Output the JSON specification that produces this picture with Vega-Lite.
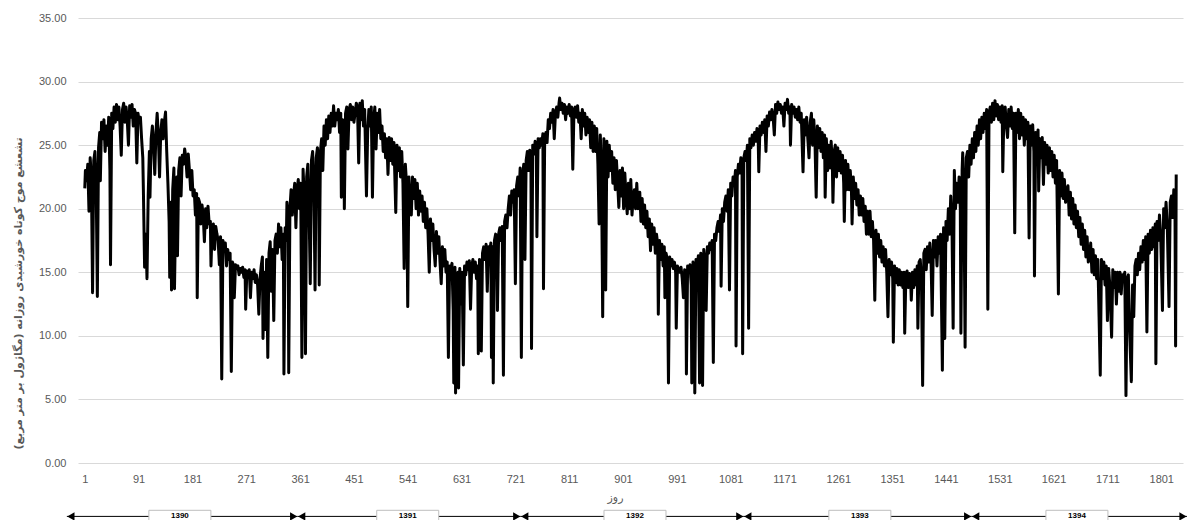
{
  "$schema": "https://vega.github.io/schema/vega-lite/v6.json",
  "autosize": {"type": "none"},
  "width": 1105,
  "height": 445,
  "padding": {"left": 78, "top": 18, "right": 11, "bottom": 57},
  "background": "white",
  "config": {"view": {"stroke": null}, "font": "Liberation Sans"},
  "datasets": {
    "series": [
{"d":1,"v":21.6},{"d":2,"v":23.0},{"d":4,"v":22.2},{"d":6,"v":23.5},{"d":8,"v":19.8},{"d":10,"v":24.0},{"d":12,"v":22.5},{"d":14,"v":13.4},{"d":16,"v":23.8},{"d":18,"v":24.5},{"d":20,"v":22.0},{"d":22,"v":13.1},{"d":24,"v":24.8},{"d":26,"v":26.0},{"d":27,"v":22.2},{"d":29,"v":26.8},{"d":31,"v":25.5},{"d":33,"v":27.0},{"d":35,"v":24.5},{"d":37,"v":26.5},{"d":39,"v":25.0},{"d":41,"v":27.2},{"d":43,"v":23.0},{"d":44,"v":15.6},{"d":46,"v":27.5},{"d":48,"v":26.3},{"d":50,"v":28.0},{"d":52,"v":26.8},{"d":54,"v":28.2},{"d":56,"v":27.0},{"d":58,"v":28.0},{"d":60,"v":26.5},{"d":62,"v":24.2},{"d":64,"v":27.8},{"d":66,"v":28.3},{"d":68,"v":26.8},{"d":70,"v":28.0},{"d":72,"v":27.0},{"d":74,"v":25.0},{"d":76,"v":28.1},{"d":78,"v":27.2},{"d":80,"v":28.2},{"d":82,"v":26.5},{"d":84,"v":27.8},{"d":86,"v":27.5},{"d":88,"v":23.6},{"d":90,"v":27.5},{"d":92,"v":26.8},{"d":94,"v":27.2},{"d":96,"v":25.5},{"d":98,"v":24.0},{"d":99,"v":21.4},{"d":101,"v":15.4},{"d":103,"v":18.0},{"d":105,"v":14.5},{"d":107,"v":21.0},{"d":109,"v":24.5},{"d":110,"v":20.9},{"d":112,"v":25.5},{"d":114,"v":26.5},{"d":116,"v":25.0},{"d":118,"v":22.7},{"d":120,"v":26.0},{"d":122,"v":27.5},{"d":124,"v":25.8},{"d":126,"v":22.5},{"d":128,"v":26.0},{"d":130,"v":27.0},{"d":132,"v":25.5},{"d":134,"v":26.8},{"d":136,"v":27.6},{"d":138,"v":24.5},{"d":140,"v":22.0},{"d":142,"v":19.0},{"d":143,"v":14.6},{"d":145,"v":20.5},{"d":146,"v":13.6},{"d":148,"v":21.5},{"d":150,"v":23.2},{"d":151,"v":13.7},{"d":153,"v":20.0},{"d":155,"v":22.5},{"d":156,"v":16.3},{"d":158,"v":23.0},{"d":160,"v":24.0},{"d":162,"v":21.0},{"d":164,"v":24.2},{"d":166,"v":23.5},{"d":168,"v":24.7},{"d":170,"v":24.0},{"d":172,"v":22.5},{"d":174,"v":24.3},{"d":176,"v":23.0},{"d":178,"v":21.5},{"d":180,"v":23.0},{"d":182,"v":21.0},{"d":184,"v":21.5},{"d":186,"v":19.5},{"d":188,"v":21.2},{"d":189,"v":13.0},{"d":191,"v":20.8},{"d":193,"v":20.5},{"d":195,"v":18.8},{"d":197,"v":20.3},{"d":199,"v":19.5},{"d":201,"v":17.4},{"d":203,"v":20.0},{"d":205,"v":18.5},{"d":207,"v":20.2},{"d":209,"v":18.8},{"d":211,"v":19.0},{"d":212,"v":15.5},{"d":214,"v":18.5},{"d":216,"v":18.8},{"d":218,"v":16.8},{"d":220,"v":18.6},{"d":222,"v":18.0},{"d":224,"v":17.5},{"d":226,"v":15.6},{"d":228,"v":17.8},{"d":230,"v":6.6},{"d":232,"v":17.5},{"d":234,"v":17.0},{"d":236,"v":17.3},{"d":238,"v":15.5},{"d":240,"v":16.8},{"d":242,"v":16.0},{"d":244,"v":16.5},{"d":246,"v":7.2},{"d":248,"v":15.8},{"d":250,"v":15.5},{"d":251,"v":13.0},{"d":253,"v":15.6},{"d":255,"v":15.3},{"d":257,"v":15.5},{"d":259,"v":14.8},{"d":261,"v":15.3},{"d":263,"v":15.0},{"d":265,"v":15.4},{"d":267,"v":14.6},{"d":269,"v":15.2},{"d":270,"v":12.1},{"d":272,"v":15.1},{"d":274,"v":14.8},{"d":276,"v":15.2},{"d":278,"v":13.0},{"d":280,"v":15.0},{"d":282,"v":14.5},{"d":284,"v":15.2},{"d":286,"v":14.2},{"d":288,"v":14.8},{"d":290,"v":14.0},{"d":292,"v":11.7},{"d":294,"v":14.5},{"d":296,"v":15.5},{"d":298,"v":16.2},{"d":299,"v":9.8},{"d":301,"v":15.0},{"d":303,"v":10.5},{"d":305,"v":16.0},{"d":307,"v":8.3},{"d":309,"v":16.5},{"d":311,"v":17.4},{"d":313,"v":13.5},{"d":315,"v":16.8},{"d":317,"v":11.2},{"d":319,"v":17.5},{"d":321,"v":18.0},{"d":323,"v":16.5},{"d":325,"v":18.8},{"d":327,"v":17.0},{"d":329,"v":18.5},{"d":331,"v":16.0},{"d":333,"v":18.0},{"d":334,"v":7.0},{"d":336,"v":18.5},{"d":338,"v":17.5},{"d":339,"v":20.5},{"d":341,"v":19.0},{"d":342,"v":7.1},{"d":344,"v":20.0},{"d":346,"v":21.5},{"d":348,"v":19.5},{"d":350,"v":21.0},{"d":352,"v":22.0},{"d":354,"v":18.5},{"d":356,"v":21.5},{"d":358,"v":22.3},{"d":360,"v":20.0},{"d":362,"v":22.0},{"d":364,"v":8.3},{"d":366,"v":23.1},{"d":368,"v":21.0},{"d":370,"v":8.6},{"d":372,"v":22.5},{"d":374,"v":23.5},{"d":376,"v":20.0},{"d":378,"v":14.1},{"d":380,"v":23.8},{"d":382,"v":24.5},{"d":384,"v":22.0},{"d":386,"v":13.6},{"d":388,"v":24.0},{"d":390,"v":24.8},{"d":392,"v":22.5},{"d":393,"v":14.0},{"d":395,"v":24.5},{"d":397,"v":25.5},{"d":399,"v":23.0},{"d":401,"v":26.5},{"d":403,"v":25.0},{"d":405,"v":27.0},{"d":407,"v":25.5},{"d":409,"v":27.3},{"d":411,"v":26.0},{"d":413,"v":27.5},{"d":415,"v":26.5},{"d":417,"v":28.1},{"d":419,"v":26.5},{"d":421,"v":27.5},{"d":423,"v":27.0},{"d":425,"v":27.8},{"d":427,"v":26.0},{"d":429,"v":27.5},{"d":430,"v":20.9},{"d":432,"v":27.0},{"d":434,"v":26.5},{"d":435,"v":20.0},{"d":437,"v":27.5},{"d":439,"v":28.0},{"d":441,"v":24.7},{"d":443,"v":27.8},{"d":445,"v":28.2},{"d":447,"v":27.0},{"d":449,"v":28.0},{"d":451,"v":26.8},{"d":453,"v":27.5},{"d":455,"v":28.3},
{"d":457,"v":28.0},{"d":459,"v":23.6},{"d":461,"v":28.3},{"d":463,"v":27.0},{"d":465,"v":28.5},{"d":467,"v":26.5},{"d":469,"v":27.8},{"d":472,"v":21.0},{"d":474,"v":26.0},{"d":476,"v":27.8},{"d":478,"v":26.5},{"d":480,"v":28.0},{"d":482,"v":20.9},{"d":484,"v":27.0},{"d":486,"v":28.0},{"d":488,"v":24.7},{"d":490,"v":27.5},{"d":492,"v":26.0},{"d":494,"v":27.8},{"d":496,"v":25.5},{"d":498,"v":26.5},{"d":500,"v":24.5},{"d":502,"v":25.9},{"d":504,"v":24.0},{"d":506,"v":25.5},{"d":508,"v":22.7},{"d":510,"v":25.6},{"d":512,"v":23.8},{"d":514,"v":25.5},{"d":516,"v":23.5},{"d":518,"v":25.2},{"d":521,"v":19.7},{"d":523,"v":25.0},{"d":525,"v":23.0},{"d":527,"v":24.8},{"d":529,"v":22.5},{"d":531,"v":24.5},{"d":533,"v":22.0},{"d":535,"v":15.3},{"d":537,"v":23.5},{"d":539,"v":22.0},{"d":541,"v":12.3},{"d":543,"v":22.5},{"d":545,"v":20.5},{"d":547,"v":19.5},{"d":549,"v":22.5},{"d":551,"v":20.8},{"d":553,"v":22.3},{"d":555,"v":20.0},{"d":557,"v":22.0},{"d":559,"v":19.5},{"d":561,"v":21.4},{"d":563,"v":19.8},{"d":565,"v":21.0},{"d":567,"v":19.0},{"d":569,"v":20.5},{"d":571,"v":18.5},{"d":573,"v":20.0},{"d":575,"v":18.0},{"d":577,"v":15.0},{"d":579,"v":19.2},{"d":581,"v":17.5},{"d":583,"v":18.8},{"d":585,"v":16.8},{"d":587,"v":15.5},{"d":589,"v":18.2},{"d":591,"v":16.5},{"d":593,"v":17.8},{"d":595,"v":15.8},{"d":597,"v":14.1},{"d":599,"v":17.0},{"d":601,"v":15.5},{"d":603,"v":16.8},{"d":605,"v":15.0},{"d":607,"v":15.8},{"d":609,"v":8.3},{"d":611,"v":15.5},{"d":613,"v":15.2},{"d":615,"v":15.7},{"d":617,"v":12.0},{"d":618,"v":6.3},{"d":620,"v":15.4},{"d":621,"v":5.5},{"d":623,"v":14.5},{"d":625,"v":15.0},{"d":626,"v":5.9},{"d":628,"v":15.3},{"d":630,"v":12.5},{"d":632,"v":15.0},{"d":634,"v":7.7},{"d":636,"v":15.5},{"d":638,"v":14.8},{"d":640,"v":15.8},{"d":642,"v":15.2},{"d":644,"v":15.9},{"d":646,"v":12.1},{"d":648,"v":15.5},{"d":650,"v":16.0},{"d":652,"v":15.0},{"d":654,"v":15.8},{"d":656,"v":14.5},{"d":658,"v":15.5},{"d":659,"v":8.6},{"d":661,"v":16.0},{"d":663,"v":15.5},{"d":664,"v":8.8},{"d":666,"v":16.5},{"d":668,"v":17.0},{"d":670,"v":16.0},{"d":672,"v":17.2},{"d":674,"v":13.5},{"d":676,"v":17.0},{"d":678,"v":16.5},{"d":680,"v":17.3},{"d":681,"v":8.3},{"d":683,"v":17.0},{"d":684,"v":6.3},{"d":686,"v":17.5},{"d":688,"v":18.0},{"d":690,"v":17.2},{"d":691,"v":12.0},{"d":693,"v":18.0},{"d":695,"v":18.5},{"d":697,"v":17.5},{"d":699,"v":18.6},{"d":701,"v":6.9},{"d":703,"v":19.0},{"d":705,"v":19.5},{"d":707,"v":18.5},{"d":709,"v":20.0},{"d":711,"v":21.0},{"d":713,"v":19.5},{"d":715,"v":21.4},{"d":717,"v":20.5},{"d":719,"v":21.5},{"d":721,"v":14.1},{"d":723,"v":21.8},{"d":725,"v":22.5},{"d":727,"v":21.0},{"d":729,"v":23.2},{"d":731,"v":8.3},{"d":733,"v":22.5},{"d":735,"v":23.5},{"d":737,"v":16.0},{"d":739,"v":23.8},{"d":741,"v":24.5},{"d":743,"v":23.0},{"d":745,"v":24.6},{"d":747,"v":24.0},{"d":748,"v":9.0},{"d":750,"v":25.0},{"d":752,"v":24.3},{"d":754,"v":25.3},{"d":756,"v":24.5},{"d":757,"v":17.8},{"d":759,"v":25.5},{"d":761,"v":24.8},{"d":763,"v":25.5},{"d":765,"v":25.0},{"d":767,"v":25.9},{"d":768,"v":13.7},{"d":770,"v":25.5},{"d":772,"v":26.0},{"d":774,"v":25.2},{"d":776,"v":27.0},{"d":778,"v":26.3},{"d":780,"v":27.5},{"d":782,"v":26.8},{"d":784,"v":27.8},{"d":786,"v":25.5},{"d":788,"v":27.5},{"d":790,"v":28.0},{"d":792,"v":27.2},{"d":794,"v":28.3},{"d":795,"v":28.7},{"d":797,"v":27.8},{"d":799,"v":28.3},{"d":801,"v":27.5},{"d":803,"v":28.2},{"d":805,"v":27.0},{"d":807,"v":28.0},{"d":809,"v":27.5},{"d":811,"v":28.2},{"d":813,"v":27.3},{"d":815,"v":28.0},{"d":817,"v":23.1},{"d":819,"v":27.8},{"d":821,"v":28.0},{"d":823,"v":27.2},{"d":825,"v":28.1},{"d":827,"v":26.8},{"d":829,"v":27.5},{"d":831,"v":25.5},{"d":833,"v":27.8},{"d":835,"v":26.5},{"d":837,"v":27.5},{"d":839,"v":25.8},{"d":841,"v":27.2},{"d":843,"v":26.0},{"d":845,"v":27.0},{"d":847,"v":24.8},{"d":849,"v":26.8},{"d":851,"v":24.5},{"d":853,"v":26.5},{"d":855,"v":24.5},{"d":857,"v":26.3},{"d":859,"v":23.5},{"d":861,"v":18.8},{"d":863,"v":25.8},{"d":865,"v":23.0},{"d":867,"v":11.5},{"d":869,"v":25.5},{"d":871,"v":23.5},{"d":872,"v":13.6},{"d":874,"v":25.3},{"d":876,"v":22.5},{"d":878,"v":25.0},{"d":880,"v":23.0},{"d":882,"v":24.5},{"d":884,"v":22.0},{"d":886,"v":24.0},{"d":888,"v":21.5},{"d":890,"v":23.8},{"d":892,"v":22.0},{"d":894,"v":20.1},{"d":896,"v":23.0},{"d":898,"v":21.0},{"d":900,"v":23.2},{"d":902,"v":20.0},{"d":904,"v":22.8},{"d":906,"v":21.0},{"d":908,"v":19.6},{"d":910,"v":22.0},{"d":912,"v":20.0},{"d":914,"v":22.3},{"d":916,"v":19.5},{"d":918,"v":20.9},{"d":920,"v":21.5},
{"d":922,"v":20.0},{"d":924,"v":22.0},{"d":926,"v":20.0},{"d":927,"v":20.9},{"d":929,"v":21.3},{"d":931,"v":19.0},{"d":933,"v":20.8},{"d":935,"v":18.8},{"d":937,"v":20.3},{"d":939,"v":18.5},{"d":941,"v":19.8},{"d":943,"v":17.8},{"d":945,"v":19.2},{"d":947,"v":16.7},{"d":949,"v":18.8},{"d":951,"v":17.2},{"d":953,"v":18.5},{"d":955,"v":16.5},{"d":957,"v":18.0},{"d":959,"v":17.2},{"d":960,"v":11.7},{"d":962,"v":17.5},{"d":964,"v":16.0},{"d":966,"v":17.2},{"d":968,"v":15.5},{"d":970,"v":17.0},{"d":971,"v":13.0},{"d":973,"v":16.5},{"d":975,"v":16.0},{"d":977,"v":6.3},{"d":979,"v":16.2},{"d":981,"v":15.5},{"d":983,"v":16.0},{"d":985,"v":15.3},{"d":987,"v":15.8},{"d":989,"v":15.0},{"d":990,"v":10.6},{"d":992,"v":15.5},{"d":994,"v":15.2},{"d":996,"v":15.0},{"d":998,"v":15.4},{"d":1000,"v":14.5},{"d":1002,"v":13.0},{"d":1004,"v":15.2},{"d":1006,"v":15.0},{"d":1007,"v":7.0},{"d":1009,"v":15.5},{"d":1011,"v":15.0},{"d":1013,"v":15.6},{"d":1015,"v":14.0},{"d":1016,"v":6.3},{"d":1018,"v":15.8},{"d":1020,"v":15.0},{"d":1021,"v":5.5},{"d":1023,"v":16.0},{"d":1025,"v":15.5},{"d":1027,"v":16.3},{"d":1029,"v":6.3},{"d":1031,"v":16.5},{"d":1033,"v":15.8},{"d":1034,"v":6.1},{"d":1036,"v":16.8},{"d":1038,"v":16.0},{"d":1040,"v":12.0},{"d":1042,"v":17.0},{"d":1044,"v":16.5},{"d":1046,"v":17.3},{"d":1048,"v":16.8},{"d":1050,"v":17.5},{"d":1052,"v":7.9},{"d":1054,"v":18.0},{"d":1056,"v":17.5},{"d":1058,"v":18.5},{"d":1060,"v":19.0},{"d":1062,"v":18.2},{"d":1064,"v":19.5},{"d":1065,"v":13.9},{"d":1067,"v":20.0},{"d":1069,"v":19.0},{"d":1071,"v":20.5},{"d":1073,"v":21.0},{"d":1075,"v":19.8},{"d":1077,"v":21.5},{"d":1079,"v":13.6},{"d":1081,"v":22.0},{"d":1083,"v":21.0},{"d":1085,"v":22.5},{"d":1087,"v":21.8},{"d":1089,"v":23.0},{"d":1090,"v":9.2},{"d":1092,"v":22.5},{"d":1094,"v":23.5},{"d":1096,"v":22.8},{"d":1098,"v":24.0},{"d":1100,"v":23.5},{"d":1101,"v":8.6},{"d":1103,"v":24.0},{"d":1105,"v":24.5},{"d":1107,"v":23.8},{"d":1109,"v":25.0},{"d":1111,"v":10.6},{"d":1113,"v":25.5},{"d":1115,"v":24.8},{"d":1117,"v":25.8},{"d":1119,"v":25.0},{"d":1121,"v":26.0},{"d":1123,"v":25.3},{"d":1125,"v":26.3},{"d":1127,"v":25.5},{"d":1128,"v":22.9},{"d":1130,"v":26.5},{"d":1132,"v":25.8},{"d":1134,"v":26.8},{"d":1136,"v":26.0},{"d":1138,"v":27.0},{"d":1140,"v":24.5},{"d":1142,"v":27.3},{"d":1144,"v":26.5},{"d":1146,"v":27.6},{"d":1148,"v":27.0},{"d":1150,"v":27.8},{"d":1152,"v":27.2},{"d":1154,"v":25.8},{"d":1156,"v":28.2},{"d":1158,"v":27.5},{"d":1160,"v":28.4},{"d":1162,"v":27.8},{"d":1164,"v":28.2},{"d":1166,"v":27.5},{"d":1168,"v":28.0},{"d":1170,"v":26.5},{"d":1172,"v":28.3},{"d":1174,"v":27.8},{"d":1176,"v":28.6},{"d":1178,"v":27.5},{"d":1180,"v":28.0},{"d":1181,"v":25.0},{"d":1183,"v":28.2},{"d":1185,"v":27.5},{"d":1187,"v":28.0},{"d":1189,"v":27.2},{"d":1191,"v":27.8},{"d":1193,"v":27.0},{"d":1195,"v":28.0},{"d":1197,"v":26.8},{"d":1199,"v":27.5},{"d":1202,"v":22.9},{"d":1204,"v":27.0},{"d":1206,"v":25.8},{"d":1208,"v":27.2},{"d":1210,"v":25.5},{"d":1212,"v":24.0},{"d":1214,"v":26.8},{"d":1216,"v":27.5},{"d":1218,"v":25.0},{"d":1220,"v":27.0},{"d":1222,"v":25.2},{"d":1224,"v":20.9},{"d":1226,"v":26.5},{"d":1228,"v":24.8},{"d":1230,"v":26.3},{"d":1232,"v":24.5},{"d":1234,"v":26.0},{"d":1236,"v":24.0},{"d":1238,"v":25.8},{"d":1239,"v":20.9},{"d":1241,"v":25.5},{"d":1243,"v":23.0},{"d":1245,"v":25.0},{"d":1247,"v":23.2},{"d":1249,"v":25.3},{"d":1251,"v":23.5},{"d":1252,"v":20.5},{"d":1254,"v":24.5},{"d":1256,"v":25.0},{"d":1258,"v":22.5},{"d":1260,"v":24.8},{"d":1262,"v":23.0},{"d":1264,"v":24.5},{"d":1266,"v":22.8},{"d":1268,"v":24.2},{"d":1270,"v":22.0},{"d":1271,"v":19.0},{"d":1273,"v":23.8},{"d":1275,"v":21.5},{"d":1277,"v":23.5},{"d":1279,"v":21.5},{"d":1281,"v":23.0},{"d":1283,"v":21.3},{"d":1284,"v":18.8},{"d":1286,"v":22.5},{"d":1288,"v":20.8},{"d":1290,"v":22.0},{"d":1292,"v":20.3},{"d":1294,"v":21.5},{"d":1296,"v":19.5},{"d":1298,"v":21.0},{"d":1300,"v":19.5},{"d":1302,"v":20.8},{"d":1304,"v":19.0},{"d":1306,"v":20.2},{"d":1308,"v":18.0},{"d":1310,"v":19.8},{"d":1312,"v":18.0},{"d":1314,"v":19.8},{"d":1316,"v":17.8},{"d":1318,"v":19.0},{"d":1320,"v":17.5},{"d":1322,"v":12.8},{"d":1324,"v":18.3},{"d":1326,"v":16.5},{"d":1328,"v":18.0},{"d":1330,"v":16.2},{"d":1332,"v":17.5},{"d":1334,"v":15.8},{"d":1336,"v":17.0},{"d":1338,"v":15.5},{"d":1340,"v":16.8},{"d":1342,"v":15.0},{"d":1344,"v":11.5},{"d":1346,"v":16.0},{"d":1348,"v":14.8},{"d":1350,"v":15.8},{"d":1352,"v":14.5},{"d":1353,"v":9.5},{"d":1355,"v":15.5},{"d":1357,"v":14.2},{"d":1359,"v":15.3},{"d":1361,"v":14.0},{"d":1363,"v":15.2},{"d":1365,"v":14.0},{"d":1367,"v":15.0},{"d":1369,"v":13.8},{"d":1371,"v":15.0},{"d":1372,"v":10.2},{"d":1374,"v":14.8},{"d":1376,"v":15.1},{"d":1378,"v":13.8},{"d":1380,"v":14.9},{"d":1382,"v":14.3},{"d":1383,"v":12.8},
{"d":1385,"v":15.0},{"d":1387,"v":13.8},{"d":1389,"v":15.2},{"d":1391,"v":14.0},{"d":1393,"v":15.5},{"d":1394,"v":10.6},{"d":1396,"v":15.8},{"d":1398,"v":16.0},{"d":1400,"v":14.5},{"d":1402,"v":6.1},{"d":1404,"v":16.5},{"d":1406,"v":16.8},{"d":1408,"v":15.2},{"d":1410,"v":17.0},{"d":1412,"v":15.8},{"d":1414,"v":17.3},{"d":1416,"v":16.0},{"d":1418,"v":11.6},{"d":1420,"v":17.5},{"d":1422,"v":16.2},{"d":1424,"v":17.5},{"d":1426,"v":15.5},{"d":1428,"v":17.8},{"d":1430,"v":16.5},{"d":1432,"v":18.0},{"d":1435,"v":7.3},{"d":1437,"v":18.5},{"d":1439,"v":9.8},{"d":1441,"v":19.0},{"d":1443,"v":17.5},{"d":1445,"v":20.0},{"d":1447,"v":18.0},{"d":1449,"v":21.0},{"d":1451,"v":19.0},{"d":1453,"v":10.6},{"d":1455,"v":23.0},{"d":1457,"v":20.0},{"d":1459,"v":22.0},{"d":1461,"v":20.5},{"d":1463,"v":22.5},{"d":1465,"v":20.0},{"d":1466,"v":10.2},{"d":1468,"v":23.0},{"d":1469,"v":24.4},{"d":1471,"v":21.5},{"d":1473,"v":9.1},{"d":1475,"v":24.0},{"d":1477,"v":24.5},{"d":1479,"v":22.5},{"d":1481,"v":25.0},{"d":1483,"v":23.5},{"d":1485,"v":25.5},{"d":1487,"v":24.0},{"d":1489,"v":26.0},{"d":1491,"v":24.5},{"d":1493,"v":26.5},{"d":1495,"v":25.0},{"d":1497,"v":27.0},{"d":1499,"v":25.5},{"d":1501,"v":27.2},{"d":1503,"v":26.0},{"d":1505,"v":27.5},{"d":1507,"v":26.3},{"d":1509,"v":27.8},{"d":1511,"v":12.1},{"d":1513,"v":27.5},{"d":1515,"v":28.0},{"d":1517,"v":26.8},{"d":1519,"v":28.3},{"d":1521,"v":27.0},{"d":1523,"v":28.5},{"d":1525,"v":27.3},{"d":1527,"v":28.2},{"d":1529,"v":27.0},{"d":1531,"v":28.0},{"d":1533,"v":26.8},{"d":1535,"v":28.1},{"d":1536,"v":22.9},{"d":1538,"v":27.8},{"d":1540,"v":28.0},{"d":1542,"v":26.5},{"d":1544,"v":25.6},{"d":1546,"v":27.8},{"d":1548,"v":26.5},{"d":1550,"v":28.0},{"d":1552,"v":26.3},{"d":1554,"v":27.5},{"d":1556,"v":18.1},{"d":1558,"v":27.5},{"d":1560,"v":26.0},{"d":1562,"v":27.8},{"d":1564,"v":25.5},{"d":1566,"v":27.5},{"d":1568,"v":25.8},{"d":1570,"v":27.2},{"d":1572,"v":25.0},{"d":1574,"v":27.0},{"d":1576,"v":25.5},{"d":1578,"v":26.8},{"d":1580,"v":17.7},{"d":1582,"v":26.5},{"d":1584,"v":25.0},{"d":1586,"v":26.6},{"d":1588,"v":24.5},{"d":1589,"v":14.7},{"d":1591,"v":26.0},{"d":1593,"v":24.5},{"d":1595,"v":26.2},{"d":1596,"v":21.4},{"d":1598,"v":25.5},{"d":1600,"v":24.0},{"d":1602,"v":25.6},{"d":1604,"v":21.9},{"d":1606,"v":25.2},{"d":1608,"v":23.5},{"d":1610,"v":25.0},{"d":1612,"v":22.8},{"d":1614,"v":24.8},{"d":1616,"v":23.0},{"d":1618,"v":24.5},{"d":1620,"v":22.5},{"d":1622,"v":24.2},{"d":1624,"v":22.0},{"d":1626,"v":23.8},{"d":1629,"v":13.3},{"d":1631,"v":23.0},{"d":1633,"v":21.0},{"d":1635,"v":22.8},{"d":1637,"v":20.8},{"d":1639,"v":22.3},{"d":1641,"v":20.5},{"d":1643,"v":21.4},{"d":1645,"v":21.8},{"d":1647,"v":19.5},{"d":1649,"v":21.3},{"d":1651,"v":19.2},{"d":1653,"v":20.8},{"d":1655,"v":18.8},{"d":1657,"v":20.3},{"d":1659,"v":18.5},{"d":1661,"v":19.8},{"d":1663,"v":17.8},{"d":1665,"v":19.3},{"d":1667,"v":17.2},{"d":1669,"v":18.8},{"d":1671,"v":16.8},{"d":1673,"v":18.3},{"d":1675,"v":16.2},{"d":1677,"v":17.8},{"d":1679,"v":15.8},{"d":1681,"v":16.1},{"d":1683,"v":17.3},{"d":1685,"v":15.0},{"d":1687,"v":16.8},{"d":1689,"v":14.8},{"d":1691,"v":16.3},{"d":1693,"v":14.5},{"d":1695,"v":16.0},{"d":1697,"v":11.5},{"d":1699,"v":6.9},{"d":1701,"v":16.0},{"d":1703,"v":14.5},{"d":1705,"v":15.8},{"d":1707,"v":14.0},{"d":1709,"v":15.5},{"d":1711,"v":11.2},{"d":1713,"v":15.3},{"d":1715,"v":14.0},{"d":1718,"v":9.9},{"d":1720,"v":15.2},{"d":1722,"v":13.8},{"d":1724,"v":15.0},{"d":1726,"v":12.5},{"d":1728,"v":15.0},{"d":1730,"v":13.5},{"d":1732,"v":15.0},{"d":1734,"v":13.3},{"d":1736,"v":14.8},{"d":1738,"v":14.5},{"d":1740,"v":15.0},{"d":1742,"v":5.3},{"d":1744,"v":14.5},{"d":1746,"v":14.8},{"d":1748,"v":10.5},{"d":1751,"v":6.4},{"d":1753,"v":14.0},{"d":1755,"v":11.5},{"d":1757,"v":15.5},{"d":1759,"v":16.0},{"d":1761,"v":14.8},{"d":1763,"v":16.5},{"d":1765,"v":15.2},{"d":1767,"v":17.0},{"d":1769,"v":15.8},{"d":1771,"v":17.5},{"d":1773,"v":16.0},{"d":1775,"v":17.8},{"d":1777,"v":10.3},{"d":1779,"v":18.0},{"d":1781,"v":16.5},{"d":1783,"v":18.3},{"d":1785,"v":16.8},{"d":1787,"v":18.5},{"d":1789,"v":17.0},{"d":1791,"v":18.8},{"d":1792,"v":7.8},{"d":1794,"v":19.0},{"d":1796,"v":17.5},{"d":1798,"v":19.5},{"d":1800,"v":18.0},{"d":1803,"v":12.0},{"d":1805,"v":20.0},{"d":1807,"v":18.5},{"d":1809,"v":20.5},{"d":1811,"v":18.8},{"d":1814,"v":12.3},{"d":1816,"v":20.5},{"d":1818,"v":21.0},{"d":1820,"v":19.3},{"d":1822,"v":21.5},{"d":1824,"v":19.5},{"d":1825,"v":9.2},{"d":1826,"v":22.7}
    ],
    "years": [
      {"year": "1390", "start": -29, "end": 357, "label_day": 160},
      {"year": "1391", "start": 357, "end": 730, "label_day": 541},
      {"year": "1392", "start": 730, "end": 1103, "label_day": 921},
      {"year": "1393", "start": 1103, "end": 1484, "label_day": 1297},
      {"year": "1394", "start": 1484, "end": 1844, "label_day": 1660}
    ]
  },
  "layer": [
    {
      "data": {"name": "series"},
      "mark": {"type": "line", "color": "#000000", "strokeWidth": 3, "strokeJoin": "round", "clip": false},
      "encoding": {
        "x": {
          "field": "d", "type": "quantitative",
          "scale": {"domain": [-2, 1829], "nice": false, "zero": false},
          "axis": {
            "values": [1, 91, 181, 271, 361, 451, 541, 631, 721, 811, 901, 991, 1081, 1171, 1261, 1351, 1441, 1531, 1621, 1711, 1801],
            "format": "d", "grid": false, "ticks": false, "domain": false,
            "labelFont": "Liberation Sans", "labelFontSize": 11, "labelColor": "#595959", "labelPadding": 10,
            "labelFlush": false, "labelOverlap": false,
            "title": "روز", "titleFont": "DejaVu Sans", "titleFontSize": 11, "titleFontWeight": "normal", "titleColor": "#595959",
            "titleX": 537, "titleY": 34, "titleBaseline": "middle", "titleAlign": "center"
          }
        },
        "y": {
          "field": "v", "type": "quantitative",
          "scale": {"domain": [0, 35], "nice": false},
          "axis": {
            "values": [0, 5, 10, 15, 20, 25, 30, 35],
            "format": ".2f", "grid": true, "gridColor": "#d9d9d9", "gridWidth": 1,
            "ticks": false, "domain": false,
            "labelFont": "Liberation Sans", "labelFontSize": 11, "labelColor": "#595959", "labelPadding": 12,
            "title": "تشعشع موج کوتاه خورشیدی روزانه (مگاژول بر متر مربع)",
            "titleFont": "DejaVu Sans", "titleFontSize": 11, "titleFontWeight": "bold", "titleColor": "#595959",
            "titleX": -60, "titleY": 275, "titleAngle": 270, "titleAlign": "center", "titleBaseline": "middle"
          }
        }
      }
    },
    {
      "data": {"name": "years"},
      "mark": {"type": "rule", "color": "#000000", "strokeWidth": 1, "clip": false},
      "encoding": {
        "x": {"field": "start", "type": "quantitative"},
        "x2": {"field": "end"},
        "y": {"datum": -4.2, "type": "quantitative"}
      }
    },
    {
      "data": {"name": "years"},
      "mark": {"type": "bar", "width": 62, "fill": "#ffffff", "stroke": "#bfbfbf", "strokeWidth": 1, "clip": false},
      "encoding": {
        "x": {"field": "label_day", "type": "quantitative"},
        "y": {"datum": -3.72, "type": "quantitative"},
        "y2": {"datum": -6}
      }
    },
    {
      "data": {"name": "years"},
      "mark": {"type": "text", "baseline": "top", "fontSize": 8, "fontWeight": "bold", "font": "Liberation Sans", "color": "#000000", "clip": false},
      "encoding": {
        "x": {"field": "label_day", "type": "quantitative"},
        "y": {"datum": -3.82, "type": "quantitative"},
        "text": {"field": "year"}
      }
    },
    {
      "data": {"name": "years"},
      "mark": {"type": "point", "shape": "triangle-left", "filled": true, "color": "#000000", "size": 70, "opacity": 1, "xOffset": 4, "clip": false},
      "encoding": {
        "x": {"field": "start", "type": "quantitative"},
        "y": {"datum": -4.2, "type": "quantitative"}
      }
    },
    {
      "data": {"name": "years"},
      "mark": {"type": "point", "shape": "triangle-right", "filled": true, "color": "#000000", "size": 70, "opacity": 1, "xOffset": -4, "clip": false},
      "encoding": {
        "x": {"field": "end", "type": "quantitative"},
        "y": {"datum": -4.2, "type": "quantitative"}
      }
    }
  ]
}
